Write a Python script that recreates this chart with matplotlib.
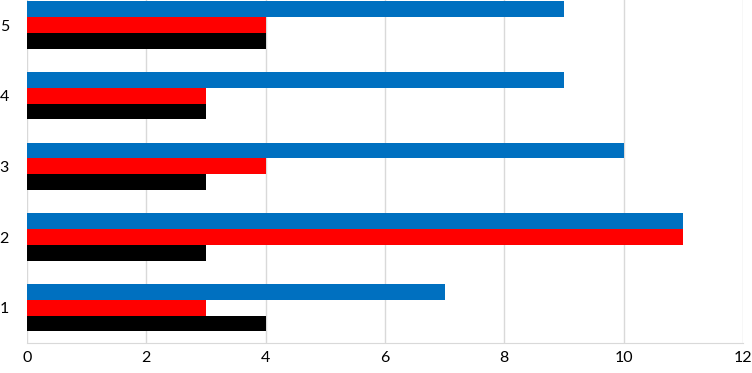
import matplotlib
matplotlib.use("Agg")
import matplotlib.pyplot as plt
import numpy as np

categories = ["1", "2", "3", "4", "5"]
series_black = [4, 3, 3, 3, 4]
series_red = [3, 11, 4, 3, 4]
series_blue = [7, 11, 10, 9, 9]
x_ticks = [0, 2, 4, 6, 8, 10, 12]

plt.rcParams['font.family'] = ['Lato', 'DejaVu Sans']

fig = plt.figure(figsize=(7.52, 3.73), dpi=100)
ax = fig.add_axes([27/752, 30/373, (743-27)/752, 343/373])

y = np.arange(len(categories))
h = 0.222
ax.barh(y - h, series_black, height=h, color="#000000", zorder=3)
ax.barh(y, series_red, height=h, color="#FF0000", zorder=3)
ax.barh(y + h, series_blue, height=h, color="#0070C0", zorder=3)

ax.set_xlim(0, 12)
ax.set_ylim(-0.5, 4.354)
ax.set_xticks(x_ticks)
ax.set_xticklabels([str(t) for t in x_ticks])
ax.set_yticks(y)
ax.set_yticklabels(categories)
ax.grid(axis="x", color="#d9d9d9", linewidth=1, zorder=0)
ax.tick_params(axis="both", length=0, labelsize=11.5, colors="#000000")
ax.tick_params(axis="y", pad=13)
ax.tick_params(axis="x", pad=6)
for s in ["top", "right", "left"]:
    ax.spines[s].set_visible(False)
ax.spines["bottom"].set_color("#d9d9d9")

fig.savefig("out.png", dpi=100)
